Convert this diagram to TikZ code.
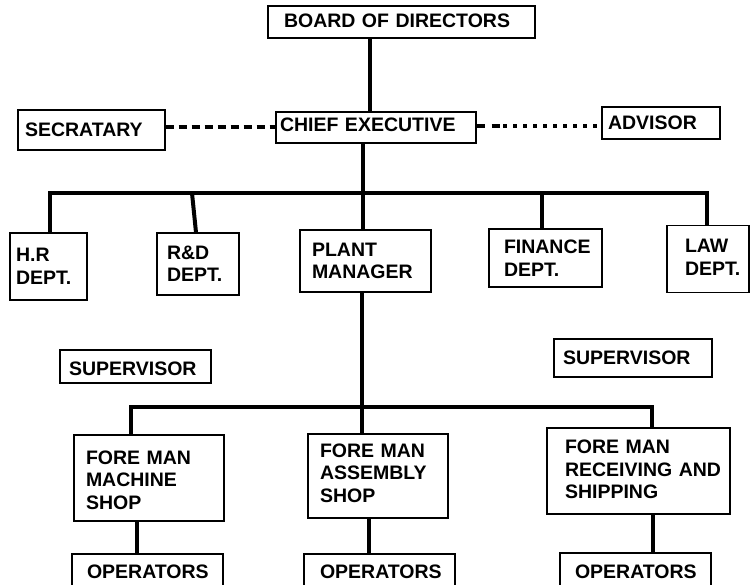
\documentclass[tikz,border=0pt]{standalone}
\usepackage{fontspec}
\setmainfont{Liberation Sans}
\begin{document}
\begin{tikzpicture}[x=1pt,y=-1pt,
  box/.style={draw, line width=1.2pt, inner xsep=0pt, inner ysep=0pt, align=left,
    font=\bfseries\fontsize{19.5}{22.5}\selectfont},
  conn/.style={line width=4pt},
  dashconn/.style={line width=4pt, dash pattern=on 8pt off 5pt},
  dashconnb/.style={line width=4pt, dash pattern=on 8pt off 7pt},
  dotconn/.style={line width=4pt, dash pattern=on 4pt off 6pt}]
\useasboundingbox (0,0) rectangle (750,585);
% boxes
\node[box, minimum width=267pt, minimum height=32pt, text width=267pt, text depth=3pt] (board) at (401.5,22) {\hspace*{16pt}BOARD OF DIRECTORS};
\node[box, minimum width=147pt, minimum height=40pt, text width=147pt] (sec) at (91.5,130) {\hspace*{7pt}SECRATARY};
\node[box, minimum width=200pt, minimum height=31pt, text width=200pt, text depth=5pt] (chief) at (376,127.5) {\hspace*{4pt}CHIEF EXECUTIVE};
\node[box, minimum width=118pt, minimum height=32pt, text width=118pt] (adv) at (661,123) {\hspace*{6pt}ADVISOR};
\node[box, minimum width=77pt, minimum height=67pt, text width=77pt] (hr) at (48.5,266.5) {\hspace*{6pt}H.R\\\hspace*{6pt}DEPT.};
\node[box, minimum width=82pt, minimum height=62pt, text width=82pt] (rd) at (198,264) {\hspace*{10pt}R\&D\\\hspace*{10pt}DEPT.};
\node[box, minimum width=131pt, minimum height=62pt, text width=131pt] (plant) at (365.5,261) {\hspace*{12pt}PLANT\\\hspace*{12pt}MANAGER};
\node[box, minimum width=113pt, minimum height=58pt, text width=113pt] (fin) at (545.5,258) {\hspace*{15pt}FINANCE\\\hspace*{15pt}DEPT.};
\node[box, minimum width=82pt, minimum height=67pt, text width=82pt, text depth=25.5pt] (law) at (708,259) {\hspace*{18pt}LAW\\\hspace*{18pt}DEPT.};
\node[box, minimum width=151pt, minimum height=33pt, text width=151pt, text height=18pt] (supl) at (135.5,366.5) {\hspace*{9pt}SUPERVISOR};
\node[box, minimum width=158pt, minimum height=38pt, text width=158pt] (supr) at (633,358) {\hspace*{9pt}SUPERVISOR};
\node[box, minimum width=150pt, minimum height=86pt, text width=150pt, text depth=41pt] (fm1) at (149,478) {\hspace*{12pt}FORE MAN\\\hspace*{12pt}MACHINE\\\hspace*{12pt}SHOP};
\node[box, minimum width=140pt, minimum height=84pt, text width=140pt, text depth=51pt] (fm2) at (378,476) {\hspace*{12pt}FORE MAN\\\hspace*{12pt}ASSEMBLY\\\hspace*{12pt}SHOP};
\node[box, minimum width=183pt, minimum height=86pt, text width=183pt, text depth=48pt] (fm3) at (638.5,471) {\hspace*{18pt}FORE MAN\\\hspace*{18pt}RECEIVING AND\\\hspace*{18pt}SHIPPING};
\node[box, minimum width=151pt, minimum height=32pt, text width=151pt, text height=17.5pt] (ops1) at (147.5,570) {\hspace*{15pt}OPERATORS};
\node[box, minimum width=151pt, minimum height=32pt, text width=151pt, text height=17.5pt] (ops2) at (379.5,570) {\hspace*{16pt}OPERATORS};
\node[box, minimum width=151pt, minimum height=33pt, text width=151pt, text height=17.5pt] (ops3) at (635.5,569.5) {\hspace*{15pt}OPERATORS};
% connectors
\coordinate (b1) at (363,193);
\coordinate (b2) at (362,407);
\coordinate (dd) at (503,126);
\draw[conn] (board.south -| 370,0) -- (chief.north -| 370,0);
\draw[conn] (chief.south -| b1) -- (b1);
\draw[conn] (hr.north -| 50,0) |- (b1) -| (law.north -| 707,0);
\draw[conn] (b1 -| 192,0) -- (rd.north -| 196,0);
\draw[conn] (b1) -- (plant.north -| b1);
\draw[conn] (b1 -| 542,0) -- (fin.north -| 542,0);
\draw[conn] (plant.south -| b2) -- (b2);
\draw[conn] (fm1.north -| 131,0) |- (b2) -| (fm3.north -| 652,0);
\draw[conn] (b2) -- (fm2.north -| b2);
\draw[conn] (fm1.south -| 137,0) -- (ops1.north -| 137,0);
\draw[conn] (fm2.south -| 369,0) -- (ops2.north -| 369,0);
\draw[conn] (fm3.south -| 653,0) -- (ops3.north -| 653,0);
\draw[dashconn] (sec.east |- 0,127) -- (chief.west |- 0,127);
\draw[dashconnb] (chief.east |- dd) -- (dd);
\draw[dotconn] (dd) -- (adv.west |- dd);
\end{tikzpicture}
\end{document}
